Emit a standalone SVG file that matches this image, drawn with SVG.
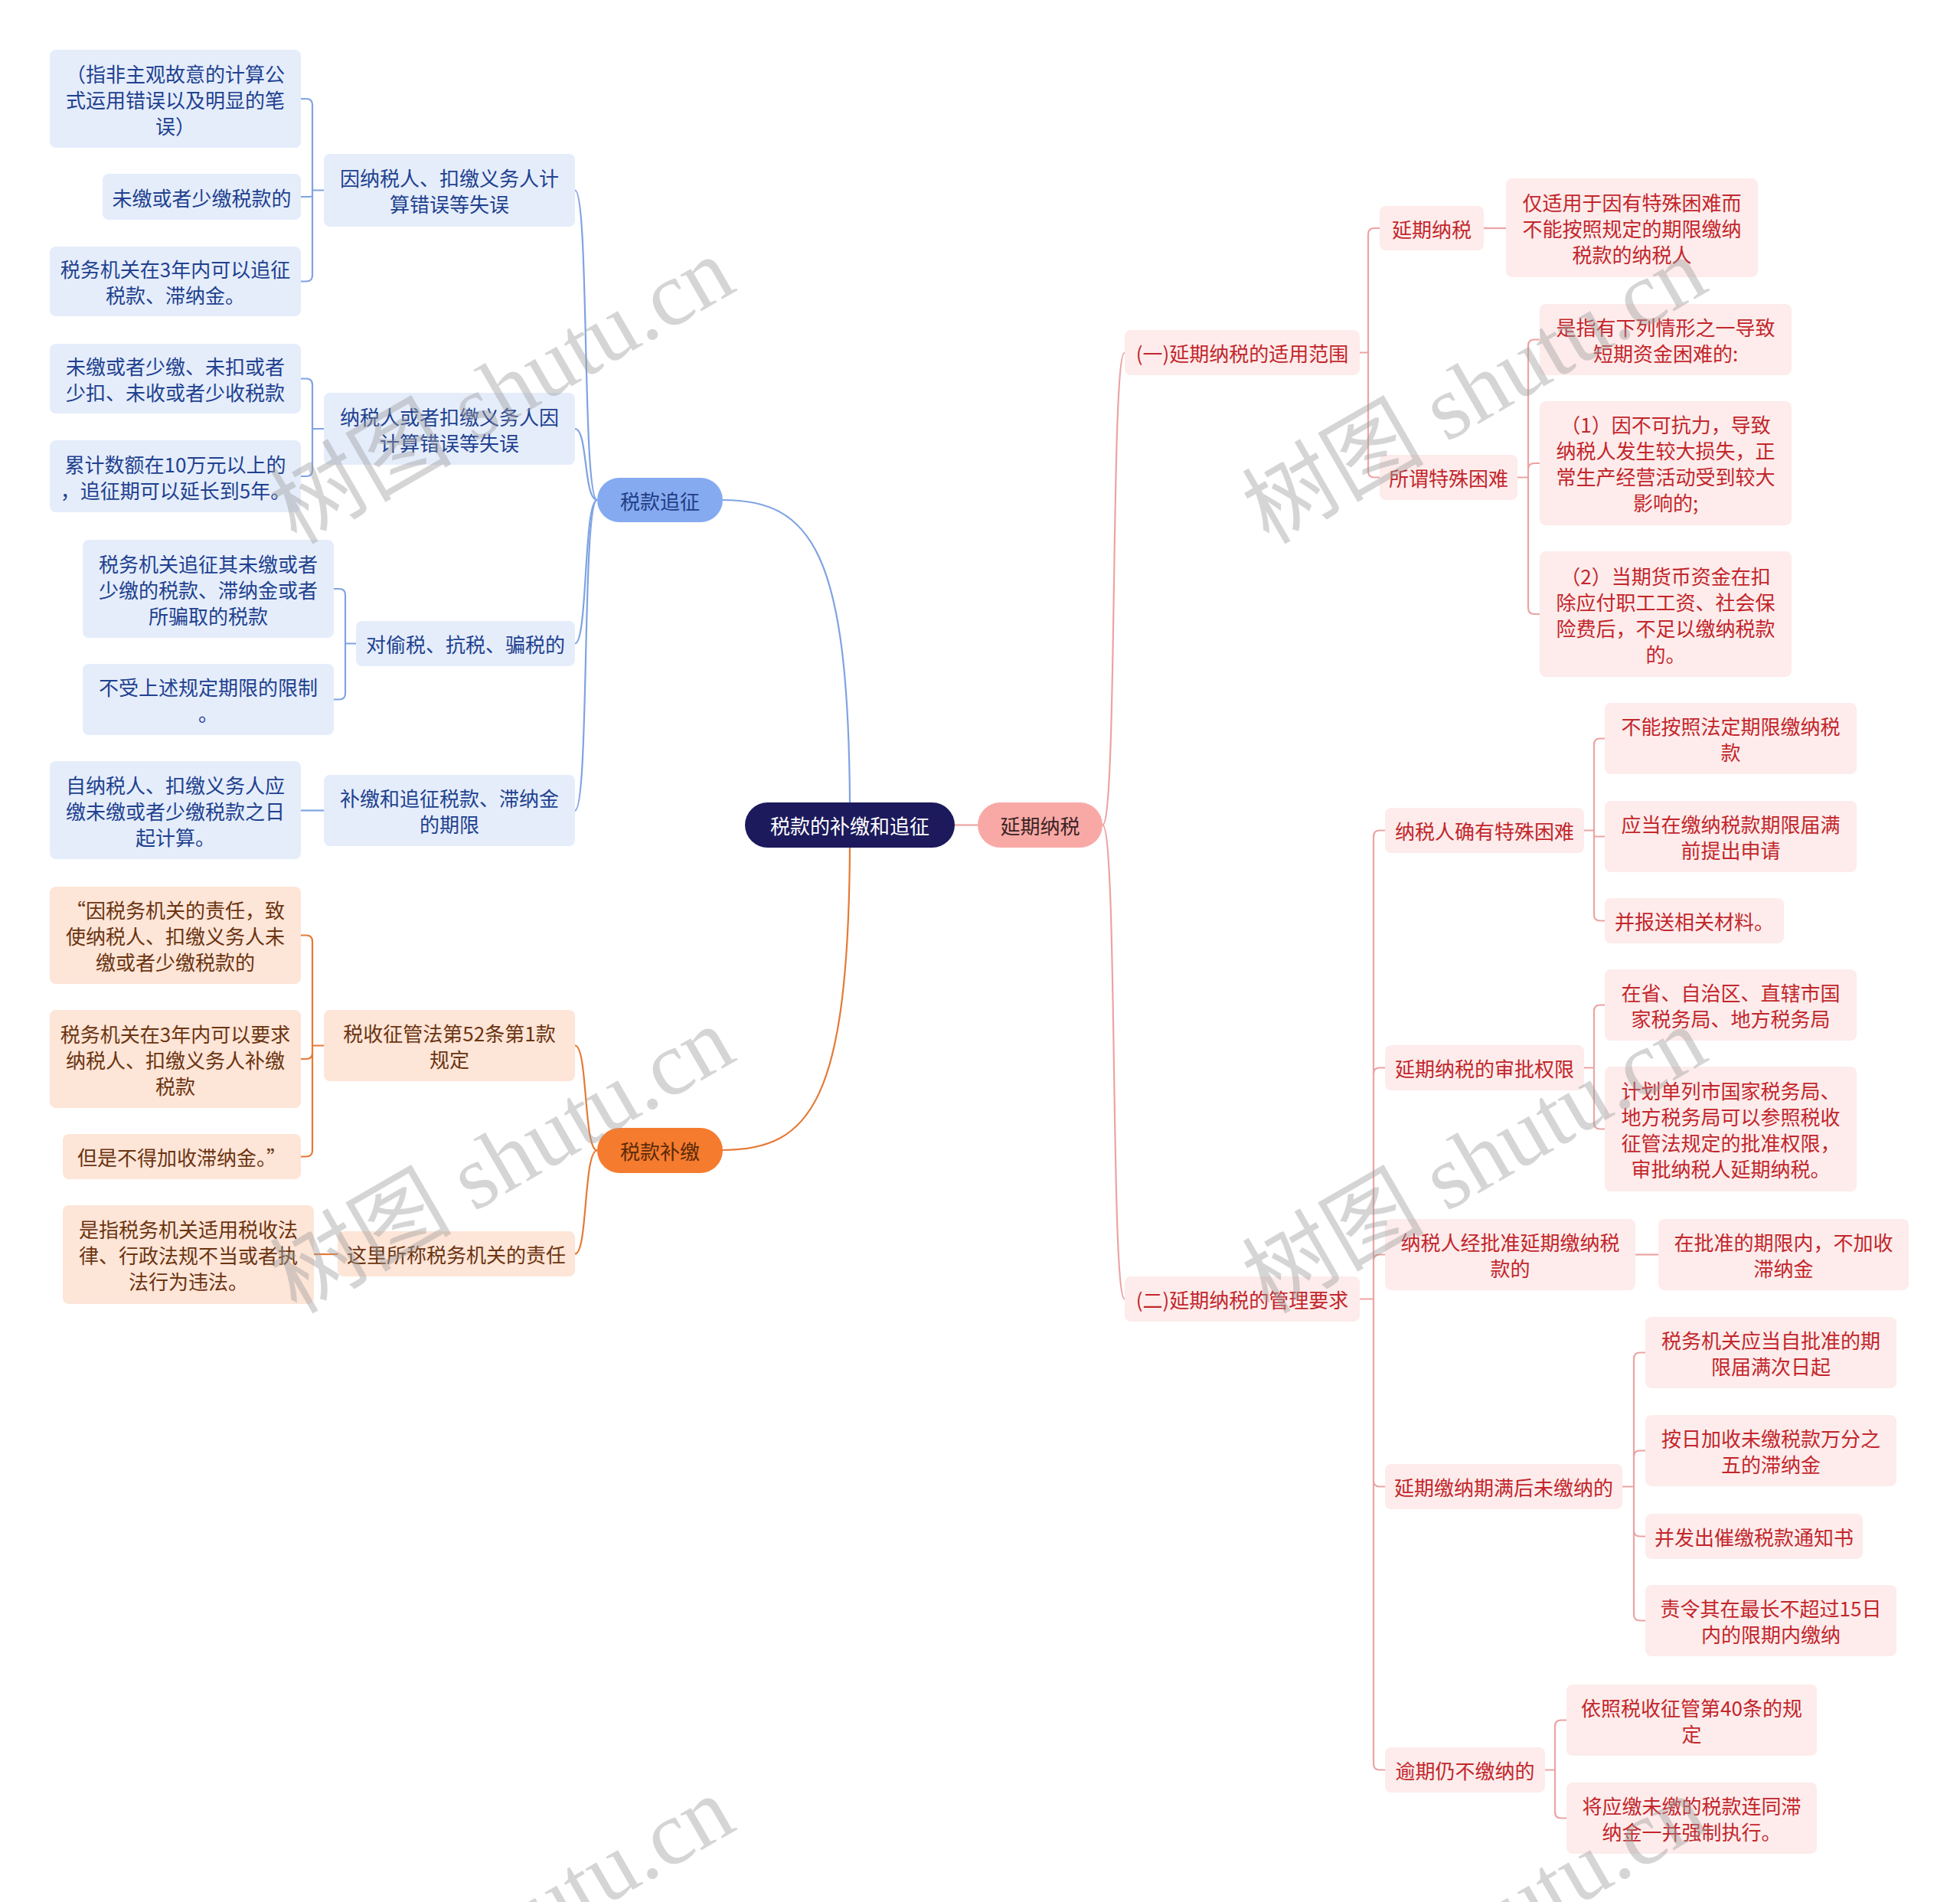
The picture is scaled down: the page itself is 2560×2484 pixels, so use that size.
<svg xmlns="http://www.w3.org/2000/svg" width="2560" height="2484" viewBox="0 0 2560 2484">
<style>
text{font-family:"Noto Sans CJK SC","Noto Sans",sans-serif;font-size:26px;text-anchor:middle;dominant-baseline:central}
.b rect{fill:#e5edfb}.b text{fill:#21418f}
.o rect{fill:#fde5d7}.o text{fill:#6b3411}
.p rect{fill:#fdeceb}.p text{fill:#c3262c}
.c{fill:none;stroke-width:2.2}
.cb{stroke:#7fa3e2}.co{stroke:#e57a36}.cp{stroke:#eca3a3}
.wm{font-family:"Liberation Serif","Noto Sans CJK SC",serif;font-size:119px;fill:#9a9a9a;fill-opacity:0.42;dominant-baseline:auto}
</style>

<g id="connectors">
  <path class="c cb" d="M944,653 C1060,653 1108,720 1110,1048"/>
  <path class="c co" d="M1110,1107 C1108,1436 1060,1502 944,1502"/>
  <path class="c cp" d="M1247,1077.5 L1277,1077.5"/>
  <path class="c cb" d="M780,653 C760,653 770,248.5 751,248.5"/>
  <path class="c cb" d="M780,653 C762,653 768,560 751,560"/>
  <path class="c cb" d="M780,653 C762,653 768,840.5 751,840.5"/>
  <path class="c cb" d="M780,653 C760,653 770,1058.5 751,1058.5"/>
  <path class="c co" d="M780,1502.5 C762,1502.5 768,1365.5 751,1365.5"/>
  <path class="c co" d="M780,1502.5 C762,1502.5 768,1637.5 751,1637.5"/>
  <path class="c cp" d="M1440,1077.5 C1460,1077.5 1450,460.5 1469,460.5"/>
  <path class="c cp" d="M1440,1077.5 C1460,1077.5 1450,1696.5 1469,1696.5"/>
  <path class="c cb" d="M423,248.5 H408 V137 Q408,129 400,129 H393 M408,248.5 V256 Q408,257 400,257 H393 M408,248.5 V359.5 Q408,367.5 400,367.5 H393"/>
  <path class="c cb" d="M423,560 H408 V502.5 Q408,494.5 400,494.5 H393 M408,560 V614 Q408,622 400,622 H393"/>
  <path class="c cb" d="M465,840.5 H451 V777 Q451,769 443,769 H436 M451,840.5 V905.5 Q451,913.5 443,913.5 H436"/>
  <path class="c cb" d="M423,1058.5 H393"/>
  <path class="c co" d="M423,1365.5 H408 V1229.5 Q408,1221.5 400,1221.5 H393 M408,1365.5 V1375 Q408,1383 400,1383 H393 M408,1365.5 V1502.5 Q408,1510.5 400,1510.5 H393"/>
  <path class="c co" d="M441,1638 H410"/>
  <path class="c cp" d="M1776,460.5 H1787 V306 Q1787,298 1795,298 H1802 M1787,460.5 V615.5 Q1787,623.5 1795,623.5 H1802"/>
  <path class="c cp" d="M1776,1696.5 H1794 V1092.5 Q1794,1084.5 1802,1084.5 H1809 M1794,1696.5 V1402.5 Q1794,1394.5 1802,1394.5 H1809 M1794,1696.5 V1646.5 Q1794,1638.5 1802,1638.5 H1809 M1794,1696.5 V1933.5 Q1794,1941.5 1802,1941.5 H1809 M1794,1696.5 V2303.5 Q1794,2311.5 1802,2311.5 H1809"/>
  <path class="c cp" d="M1938,298 H1967"/>
  <path class="c cp" d="M1982,623.5 H1996 V451.5 Q1996,443.5 2004,443.5 H2011 M1996,623.5 V613 Q1996,605 2004,605 H2011 M1996,623.5 V794 Q1996,802 2004,802 H2011"/>
  <path class="c cp" d="M2069,1084.5 H2082 V972.5 Q2082,964.5 2090,964.5 H2096 M2082,1084.5 V1092.5 H2096 M2082,1084.5 V1194.5 Q2082,1202.5 2090,1202.5 H2096"/>
  <path class="c cp" d="M2069,1394.5 H2082 V1320.5 Q2082,1312.5 2090,1312.5 H2096 M2082,1394.5 V1466.5 Q2082,1474.5 2090,1474.5 H2096"/>
  <path class="c cp" d="M2136,1638.5 H2166"/>
  <path class="c cp" d="M2119,1941.5 H2134 V1774.5 Q2134,1766.5 2142,1766.5 H2149 M2134,1941.5 V1902.5 Q2134,1894.5 2142,1894.5 H2149 M2134,1941.5 V1998.5 Q2134,2006.5 2142,2006.5 H2149 M2134,1941.5 V2108.5 Q2134,2116.5 2142,2116.5 H2149"/>
  <path class="c cp" d="M2018,2311.5 H2031 V2254.5 Q2031,2246.5 2039,2246.5 H2046 M2031,2311.5 V2366.5 Q2031,2374.5 2039,2374.5 H2046"/>
</g>

<g id="root"><rect x="973" y="1048" width="274" height="59" rx="29.5" fill="#1c1a5c"/><text x="1110" y="1077.5" fill="#ffffff">税款的补缴和追征</text></g>

<g id="n-zhuizheng"><rect x="780" y="624" width="164" height="58" rx="29" fill="#86aaf0"/><text x="862" y="653" fill="#1f3d84">税款追征</text></g>
<g id="n-bujiao"><rect x="780" y="1473" width="164" height="59" rx="29.5" fill="#f57b2e"/><text x="862" y="1502.5" fill="#5b2a08">税款补缴</text></g>
<g id="n-yanqi"><rect x="1277" y="1048" width="163" height="59" rx="29.5" fill="#f8a9a6"/><text x="1358.5" y="1077.5" fill="#3b2323">延期纳税</text></g>

<g id="b1" class="b"><rect x="65" y="65" width="328" height="128" rx="8"/><text x="229" y="95">（指非主观故意的计算公</text><text x="229" y="129">式运用错误以及明显的笔</text><text x="229" y="163">误）</text></g>
<g id="b2" class="b"><rect x="134" y="227" width="259" height="60" rx="8"/><text x="263.5" y="257">未缴或者少缴税款的</text></g>
<g id="b3" class="b"><rect x="65" y="322" width="328" height="91" rx="8"/><text x="229" y="350.5">税务机关在3年内可以追征</text><text x="229" y="384.5">税款、滞纳金。</text></g>
<g id="b4" class="b"><rect x="423" y="201" width="328" height="95" rx="8"/><text x="587" y="231.5">因纳税人、扣缴义务人计</text><text x="587" y="265.5">算错误等失误</text></g>
<g id="b5" class="b"><rect x="65" y="449" width="328" height="91" rx="8"/><text x="229" y="477.5">未缴或者少缴、未扣或者</text><text x="229" y="511.5">少扣、未收或者少收税款</text></g>
<g id="b6" class="b"><rect x="65" y="575" width="328" height="94" rx="8"/><text x="229" y="605">累计数额在10万元以上的</text><text x="229" y="639">，追征期可以延长到5年。</text></g>
<g id="b7" class="b"><rect x="423" y="513" width="328" height="94" rx="8"/><text x="587" y="543">纳税人或者扣缴义务人因</text><text x="587" y="577">计算错误等失误</text></g>
<g id="b8" class="b"><rect x="108" y="705" width="328" height="128" rx="8"/><text x="272" y="735">税务机关追征其未缴或者</text><text x="272" y="769">少缴的税款、滞纳金或者</text><text x="272" y="803">所骗取的税款</text></g>
<g id="b9" class="b"><rect x="108" y="867" width="328" height="93" rx="8"/><text x="272" y="896.5">不受上述规定期限的限制</text><text x="272" y="930.5">。</text></g>
<g id="b10" class="b"><rect x="465" y="811" width="286" height="59" rx="8"/><text x="608" y="840.5">对偷税、抗税、骗税的</text></g>
<g id="b11" class="b"><rect x="65" y="994" width="328" height="128" rx="8"/><text x="229" y="1024">自纳税人、扣缴义务人应</text><text x="229" y="1058">缴未缴或者少缴税款之日</text><text x="229" y="1092">起计算。</text></g>
<g id="b12" class="b"><rect x="423" y="1012" width="328" height="93" rx="8"/><text x="587" y="1041.5">补缴和追征税款、滞纳金</text><text x="587" y="1075.5">的期限</text></g>

<g id="o1" class="o"><rect x="65" y="1158" width="328" height="127" rx="8"/><text x="229" y="1187.5">“因税务机关的责任，致</text><text x="229" y="1221.5">使纳税人、扣缴义务人未</text><text x="229" y="1255.5">缴或者少缴税款的</text></g>
<g id="o2" class="o"><rect x="65" y="1319" width="328" height="128" rx="8"/><text x="229" y="1349">税务机关在3年内可以要求</text><text x="229" y="1383">纳税人、扣缴义务人补缴</text><text x="229" y="1417">税款</text></g>
<g id="o3" class="o"><rect x="82" y="1481" width="311" height="59" rx="8"/><text x="237.5" y="1510.5">但是不得加收滞纳金。”</text></g>
<g id="o4" class="o"><rect x="423" y="1319" width="328" height="93" rx="8"/><text x="587" y="1348.5">税收征管法第52条第1款</text><text x="587" y="1382.5">规定</text></g>
<g id="o5" class="o"><rect x="82" y="1574" width="328" height="129" rx="8"/><text x="246" y="1604.5">是指税务机关适用税收法</text><text x="246" y="1638.5">律、行政法规不当或者执</text><text x="246" y="1672.5">法行为违法。</text></g>
<g id="o6" class="o"><rect x="441" y="1608" width="310" height="59" rx="8"/><text x="596" y="1637.5">这里所称税务机关的责任</text></g>

<g id="p1" class="p"><rect x="1469" y="431" width="307" height="59" rx="8"/><text x="1622.5" y="460.5">(一)延期纳税的适用范围</text></g>
<g id="p2" class="p"><rect x="1802" y="269" width="136" height="58" rx="8"/><text x="1870" y="298">延期纳税</text></g>
<g id="p3" class="p"><rect x="1967" y="233" width="329" height="129" rx="8"/><text x="2131.5" y="263.5">仅适用于因有特殊困难而</text><text x="2131.5" y="297.5">不能按照规定的期限缴纳</text><text x="2131.5" y="331.5">税款的纳税人</text></g>
<g id="p4" class="p"><rect x="1802" y="594" width="180" height="59" rx="8"/><text x="1892" y="623.5">所谓特殊困难</text></g>
<g id="p5" class="p"><rect x="2011" y="397" width="329" height="93" rx="8"/><text x="2175.5" y="426.5">是指有下列情形之一导致</text><text x="2175.5" y="460.5">短期资金困难的:</text></g>
<g id="p6" class="p"><rect x="2011" y="524" width="329" height="162" rx="8"/><text x="2175.5" y="553.5">（1）因不可抗力，导致</text><text x="2175.5" y="587.5">纳税人发生较大损失，正</text><text x="2175.5" y="621.5">常生产经营活动受到较大</text><text x="2175.5" y="655.5">影响的;</text></g>
<g id="p7" class="p"><rect x="2011" y="720" width="329" height="164" rx="8"/><text x="2175.5" y="751">（2）当期货币资金在扣</text><text x="2175.5" y="785">除应付职工工资、社会保</text><text x="2175.5" y="819">险费后，不足以缴纳税款</text><text x="2175.5" y="853">的。</text></g>

<g id="p8" class="p"><rect x="1469" y="1667" width="307" height="59" rx="8"/><text x="1622.5" y="1696.5">(二)延期纳税的管理要求</text></g>
<g id="p9" class="p"><rect x="1809" y="1055" width="260" height="59" rx="8"/><text x="1939" y="1084.5">纳税人确有特殊困难</text></g>
<g id="p10" class="p"><rect x="2096" y="918" width="329" height="93" rx="8"/><text x="2260.5" y="947.5">不能按照法定期限缴纳税</text><text x="2260.5" y="981.5">款</text></g>
<g id="p11" class="p"><rect x="2096" y="1046" width="329" height="93" rx="8"/><text x="2260.5" y="1075.5">应当在缴纳税款期限届满</text><text x="2260.5" y="1109.5">前提出申请</text></g>
<g id="p12" class="p"><rect x="2096" y="1173" width="234" height="59" rx="8"/><text x="2213" y="1202.5">并报送相关材料。</text></g>
<g id="p13" class="p"><rect x="1809" y="1365" width="260" height="59" rx="8"/><text x="1939" y="1394.5">延期纳税的审批权限</text></g>
<g id="p14" class="p"><rect x="2096" y="1266" width="329" height="93" rx="8"/><text x="2260.5" y="1295.5">在省、自治区、直辖市国</text><text x="2260.5" y="1329.5">家税务局、地方税务局</text></g>
<g id="p15" class="p"><rect x="2096" y="1393" width="329" height="163" rx="8"/><text x="2260.5" y="1423.5">计划单列市国家税务局、</text><text x="2260.5" y="1457.5">地方税务局可以参照税收</text><text x="2260.5" y="1491.5">征管法规定的批准权限，</text><text x="2260.5" y="1525.5">审批纳税人延期纳税。</text></g>
<g id="p16" class="p"><rect x="1809" y="1592" width="327" height="93" rx="8"/><text x="1972.5" y="1621.5">纳税人经批准延期缴纳税</text><text x="1972.5" y="1655.5">款的</text></g>
<g id="p17" class="p"><rect x="2166" y="1592" width="327" height="93" rx="8"/><text x="2329.5" y="1621.5">在批准的期限内，不加收</text><text x="2329.5" y="1655.5">滞纳金</text></g>
<g id="p18" class="p"><rect x="1809" y="1912" width="310" height="59" rx="8"/><text x="1964" y="1941.5">延期缴纳期满后未缴纳的</text></g>
<g id="p19" class="p"><rect x="2149" y="1720" width="328" height="93" rx="8"/><text x="2313" y="1749.5">税务机关应当自批准的期</text><text x="2313" y="1783.5">限届满次日起</text></g>
<g id="p20" class="p"><rect x="2149" y="1848" width="328" height="93" rx="8"/><text x="2313" y="1877.5">按日加收未缴税款万分之</text><text x="2313" y="1911.5">五的滞纳金</text></g>
<g id="p21" class="p"><rect x="2149" y="1977" width="284" height="59" rx="8"/><text x="2291" y="2006.5">并发出催缴税款通知书</text></g>
<g id="p22" class="p"><rect x="2149" y="2070" width="328" height="93" rx="8"/><text x="2313" y="2099.5">责令其在最长不超过15日</text><text x="2313" y="2133.5">内的限期内缴纳</text></g>
<g id="p23" class="p"><rect x="1809" y="2282" width="209" height="59" rx="8"/><text x="1913.5" y="2311.5">逾期仍不缴纳的</text></g>
<g id="p24" class="p"><rect x="2046" y="2200" width="327" height="93" rx="8"/><text x="2209.5" y="2229.5">依照税收征管第40条的规</text><text x="2209.5" y="2263.5">定</text></g>
<g id="p25" class="p"><rect x="2046" y="2328" width="327" height="93" rx="8"/><text x="2209.5" y="2357.5">将应缴未缴的税款连同滞</text><text x="2209.5" y="2391.5">纳金一并强制执行。</text></g>

<g id="watermarks">
  <text class="wm" transform="translate(676,545) rotate(-30)">树图 shutu.cn</text>
  <text class="wm" transform="translate(1946,545) rotate(-30)">树图 shutu.cn</text>
  <text class="wm" transform="translate(676,1550) rotate(-30)">树图 shutu.cn</text>
  <text class="wm" transform="translate(1946,1550) rotate(-30)">树图 shutu.cn</text>
  <text class="wm" transform="translate(676,2555) rotate(-30)">树图 shutu.cn</text>
  <text class="wm" transform="translate(1946,2555) rotate(-30)">树图 shutu.cn</text>
</g>
</svg>
